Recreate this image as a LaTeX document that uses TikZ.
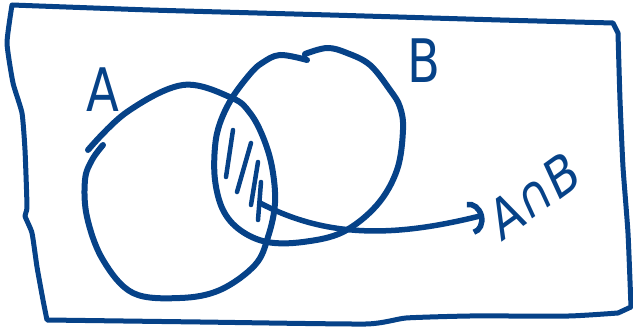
\documentclass[tikz,border=0pt]{standalone}
\usepackage{fontspec}
\setmainfont{DejaVu Sans}
\usetikzlibrary{arrows.meta}
\definecolor{ink}{RGB}{6,66,136}
\tikzset{
  pen/.style={draw=ink, line width=6pt, line cap=round, line join=round},
  hatch/.style={pen, line width=4.5pt},
  lbl/.style={text=ink, inner sep=0pt, font=\fontsize{60}{60}\selectfont, xscale=0.8},
}
\begin{document}
\begin{tikzpicture}[x=1pt,y=-1pt]
\useasboundingbox (0,0) rectangle (633,328);
% universe
\draw[pen, line width=5pt] plot[smooth, tension=0.3] coordinates {(12,5) (150,10) (330,15) (500,20) (613,23)}
  -- (618,33) -- plot[smooth, tension=0.3] coordinates {(618,33) (620,100) (623,167) (628,233) (631,307)}
  -- (618,313) -- plot[smooth, tension=0.3] coordinates {(618,313) (569,316) (470,316) (406,318) (366,324) (200,322) (47,320)}
  -- plot[smooth, tension=0.3] coordinates {(47,320) (43,300) (37,267) (32,233) (25,216) (27,207) (25,150) (22,113) (13,83) (7,43) (12,5)};
% set A
\draw[pen] plot[smooth, tension=0.6] coordinates {(88,150) (127,112) (183,85) (232,98) (250,113) (263,137) (272,167) (275,203) (268,237) (255,265) (220,290) (180,298) (133,293) (103,260) (87,217) (85,180) (92,160) (103,145)};
% set B
\draw[pen] plot[smooth, tension=0.6] coordinates {(307,60) (280,55) (262,63) (250,74) (232,98) (220,123) (215,147) (215,180) (223,210) (240,230) (267,242) (303,242) (343,232) (377,205) (397,170) (403,130) (400,107) (390,90) (370,65) (347,53) (327,48) (305,54)};
% hatching of the intersection
\draw[hatch] (233,130) -- (226,177);
\draw[hatch] (251,143) -- (237,192);
\draw[hatch] (258,162) -- (251,205);
\draw[hatch] (261,182) -- (258,220);
% labels
\node[lbl] (la) at (103,90) {A};
\node[lbl] (lb) at (424,61) {B};
\node[lbl, rotate=30, font=\fontsize{56}{56}\selectfont] (lab) at (534,195) {A∩B};
% arrow
\coordinate (p) at (260,203);
\coordinate (tip) at (484,215);
\draw[pen, line width=5.5pt, -{Arc Barb[length=14pt,width=34pt]}] (p) .. controls (330,240) and (400,236) .. (tip);
\end{tikzpicture}
\end{document}
